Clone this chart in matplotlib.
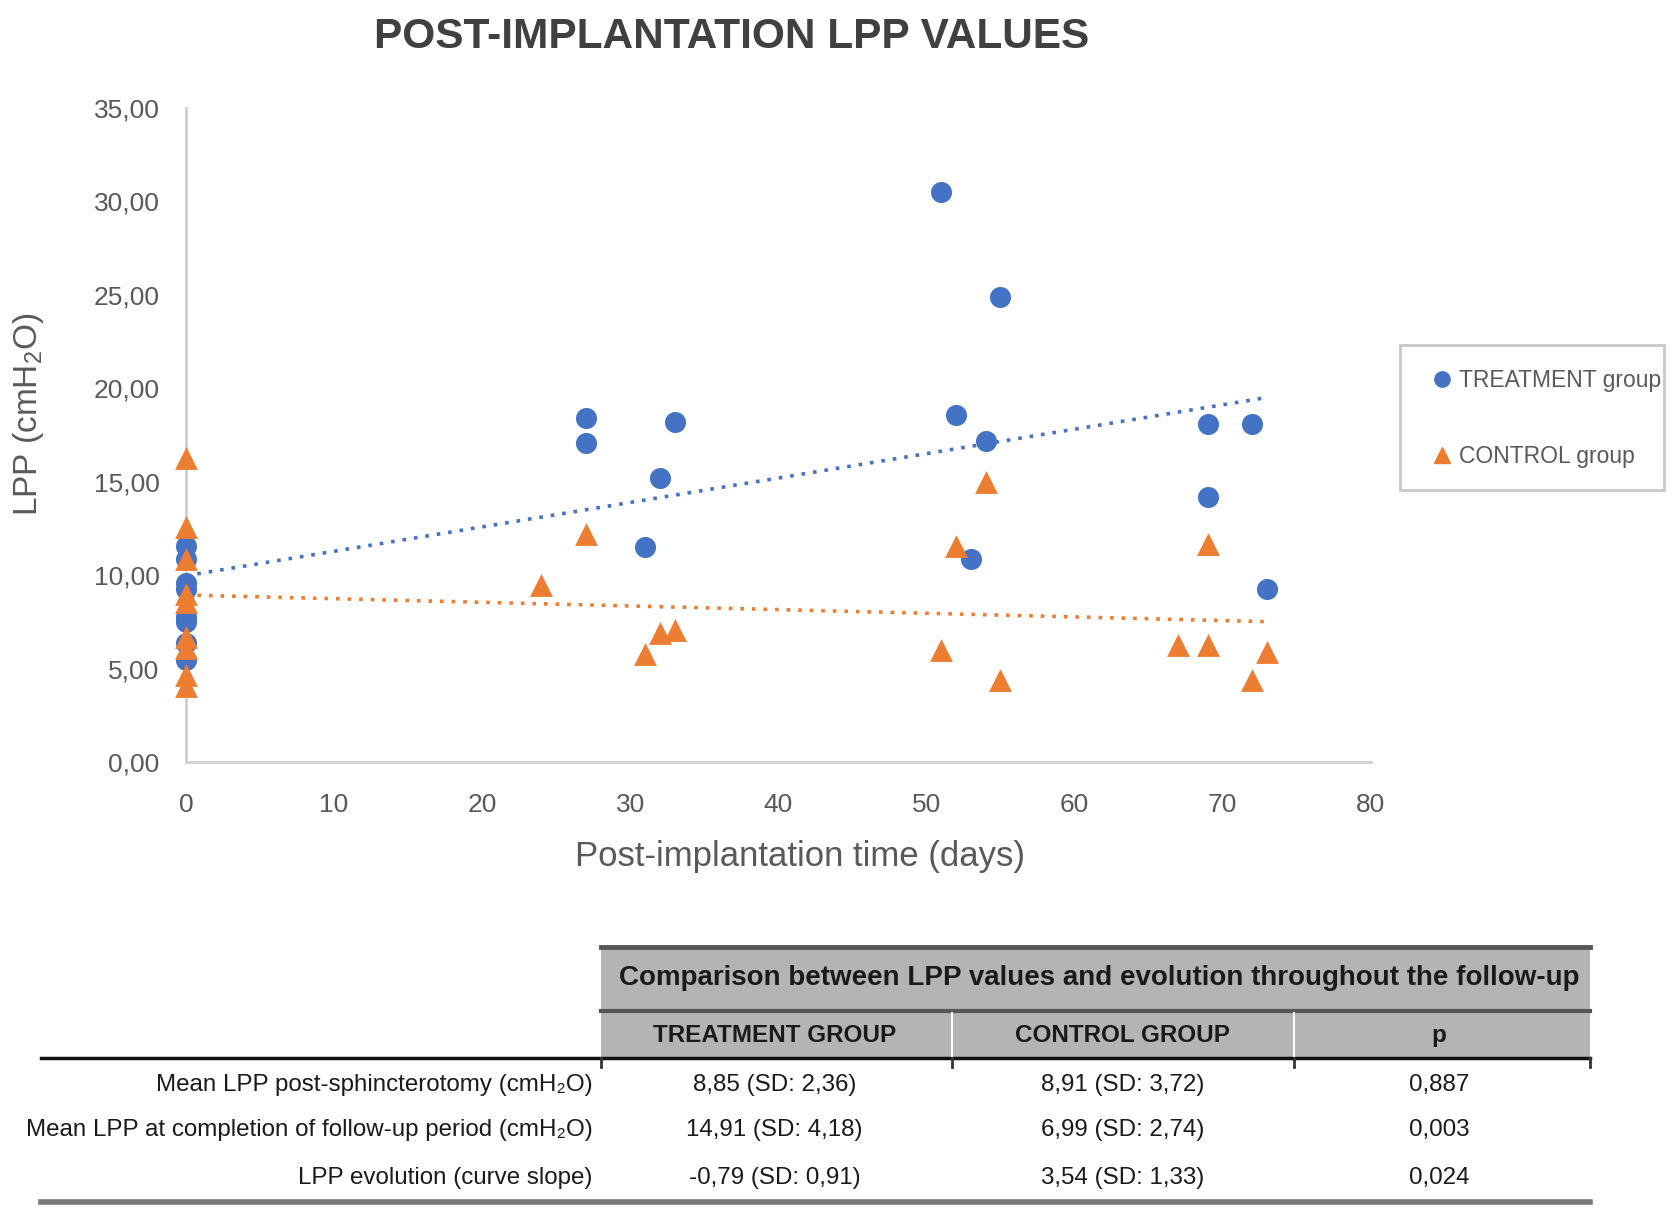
import matplotlib
matplotlib.use("Agg")
import matplotlib.pyplot as plt
from matplotlib.lines import Line2D
from matplotlib.patches import Rectangle
import numpy as np

plt.rcParams['font.family'] = ['Liberation Sans', 'DejaVu Sans']
plt.rcParams['mathtext.default'] = 'regular'

# scatter data (days, LPP cmH2O)
treat_days = [0, 0, 0, 0, 0, 0, 0, 0, 27, 27, 31, 32, 33, 51, 52, 53, 54, 55, 69, 69, 72, 73]
treat_lpp = [11.6, 10.9, 9.6, 9.3, 7.8, 7.5, 6.4, 5.5, 18.4, 17.1, 11.5, 15.2, 18.2, 30.5,
             18.6, 10.9, 17.2, 24.9, 18.1, 14.2, 18.1, 9.3]
ctrl_days = [0, 0, 0, 0, 0, 0, 0, 0, 0, 24, 27, 31, 32, 33, 51, 52, 54, 55, 67, 69, 69, 72, 73]
ctrl_lpp = [16.3, 12.6, 10.9, 9.0, 8.6, 6.7, 6.1, 4.7, 4.1, 9.5, 12.2, 5.8, 6.9, 7.1,
            6.0, 11.6, 15.0, 4.4, 6.3, 6.3, 11.7, 4.4, 5.9]

# table content
table_title = 'Comparison between LPP values and evolution throughout the follow-up'
col_headers = ['TREATMENT GROUP', 'CONTROL GROUP', 'p']
row_labels = ['Mean LPP post-sphincterotomy (cmH\u2082O)',
              'Mean LPP at completion of follow-up period (cmH\u2082O)',
              'LPP evolution (curve slope)']
treat_col = ['8,85 (SD: 2,36)', '14,91 (SD: 4,18)', '-0,79 (SD: 0,91)']
ctrl_col = ['8,91 (SD: 3,72)', '6,99 (SD: 2,74)', '3,54 (SD: 1,33)']
p_col = ['0,887', '0,003', '0,024']

BLUE = '#4472C4'
ORANGE = '#ED7D31'
GREY = '#595959'

W, H = 1568.0, 1134.0  # layout reference frame


def fx(px):
    return px / W


def fy(py):
    return 1 - py / H


fig = plt.figure(figsize=(16.75, 12.11), dpi=100)
ax = fig.add_axes([fx(174), fy(714), fx(1283) - fx(174), fy(101) - fy(714)])

ax.scatter(treat_days, treat_lpp, s=230, marker='o', color=BLUE, zorder=3, clip_on=False,
           linewidths=0)
ax.scatter(ctrl_days, ctrl_lpp, s=270, marker='^', color=ORANGE, zorder=4, clip_on=False,
           linewidths=0)

# linear trendlines
xt = np.array([0, max(treat_days)])
b1 = np.polyfit(treat_days, treat_lpp, 1)
ax.plot(xt, np.polyval(b1, xt), color=BLUE, lw=2.6, ls=(0, (1, 2.2)), zorder=2)
xc = np.array([0, max(ctrl_days)])
b2 = np.polyfit(ctrl_days, ctrl_lpp, 1)
ax.plot(xc, np.polyval(b2, xc), color=ORANGE, lw=2.6, ls=(0, (1, 2.2)), zorder=2)

ax.set_xlim(0, 80)
ax.set_ylim(0, 35)
ax.set_xticks(range(0, 81, 10))
ax.set_yticks(range(0, 36, 5))
ax.set_yticklabels([f'{v},00' for v in range(0, 36, 5)])
ax.tick_params(length=0, labelsize=19, labelcolor=GREY)
ax.tick_params(axis='y', pad=19)
ax.tick_params(axis='x', pad=22)
for s in ['top', 'right']:
    ax.spines[s].set_visible(False)
for s in ['left', 'bottom']:
    ax.spines[s].set_color('#d0d0d0')
    ax.spines[s].set_linewidth(2)

ax.set_xlabel('Post-implantation time (days)', fontsize=25, color=GREY)
ax.xaxis.set_label_coords((749 - 174) / 1109, -(802 - 714) / 613)
ax.xaxis.label.set_va('center')
ax.set_ylabel('LPP (cmH$_2$O)', fontsize=24, color=GREY)
ax.yaxis.set_label_coords(-(174 - 27) / 1109, (714 - 388) / 613)
ax.yaxis.label.set_va('center')

fig.text(fx(685), fy(35), 'POST-IMPLANTATION LPP VALUES', fontsize=30.5, fontweight='bold',
         color='#404040', ha='center', va='center')

# legend with its own frame
handles = [Line2D([], [], marker='o', ls='none', color=BLUE, markersize=11),
           Line2D([], [], marker='^', ls='none', color=ORANGE, markersize=12)]
fig.legend(handles, ['TREATMENT group', 'CONTROL group'], loc='center left',
           bbox_to_anchor=(fx(1336), fy(392)), fontsize=16.5, labelcolor=GREY,
           frameon=False, labelspacing=2.3, handletextpad=0.1,
           borderpad=0, handlelength=1.3, borderaxespad=0)
fig.patches.append(Rectangle((fx(1311), fy(459)), fx(1558) - fx(1311), fy(323) - fy(459),
                             transform=fig.transFigure, facecolor='none',
                             edgecolor='#c8c8c8', lw=2))

# comparison table
fig.patches.append(Rectangle((fx(563), fy(991)), fx(1488) - fx(563), fy(887) - fy(991),
                             transform=fig.transFigure, facecolor='#b4b4b4', edgecolor='none'))


def hline(y, x0, x1, color, lw):
    fig.add_artist(Line2D([fx(x0), fx(x1)], [fy(y), fy(y)], color=color, lw=lw))


def vline(x, y0, y1, color, lw):
    fig.add_artist(Line2D([fx(x), fx(x)], [fy(y0), fy(y1)], color=color, lw=lw))


hline(887, 563, 1488, '#555555', 3.5)
hline(947, 563, 1488, '#555555', 3)
hline(991, 38, 1488, '#111111', 2.5)
hline(1126, 38, 1488, '#777777', 4)
col_x = [725, 1051, 1347]
for x in [891, 1211]:
    vline(x, 949, 989, 'white', 1.5)
for x in [563, 891, 1211, 1488]:
    vline(x, 991, 999, '#333333', 2)

fig.text(fx(1029), fy(916), table_title, fontsize=20, fontweight='bold', color='#1a1a1a',
         ha='center', va='center')
for x, h in zip(col_x, col_headers):
    fig.text(fx(x), fy(970), h, fontsize=17.5, fontweight='bold', color='#1a1a1a',
             ha='center', va='center')
row_y = [1016, 1058, 1103]
for y, lab, a, b, p in zip(row_y, row_labels, treat_col, ctrl_col, p_col):
    fig.text(fx(555), fy(y), lab, fontsize=17.4, color='#1a1a1a', ha='right', va='center')
    for x, t in zip(col_x, [a, b, p]):
        fig.text(fx(x), fy(y), t, fontsize=17.4, color='#1a1a1a', ha='center', va='center')

fig.savefig('out.png', dpi=100, facecolor='white')
